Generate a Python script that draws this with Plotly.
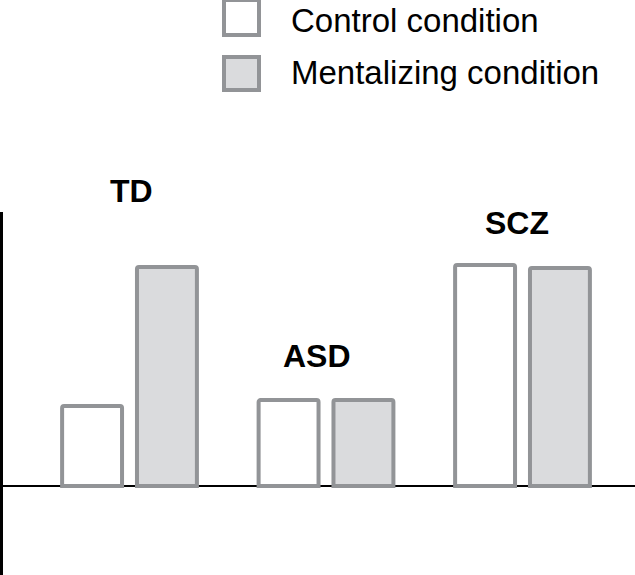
import plotly.graph_objects as go

# Data (arbitrary units, no y ticks shown in the original)
groups = ["TD", "ASD", "SCZ"]
control = [0.80, 0.86, 2.21]
mentalizing = [2.19, 0.86, 2.18]

W, H = 635, 575
BORDER = "#929497"
FILL = "#dadbdd"
FONT = "Liberation Sans, Arial, Helvetica, sans-serif"
ML = 3


def px_x(p):
    # pixel -> paper x
    return (p - ML) / (W - ML)


def px_y(p):
    # pixel -> paper y
    return 1 - p / H


fig = go.Figure()
fig.add_trace(go.Bar(
    x=groups, y=control, name="Control condition",
    width=0.305, offset=-0.343,
    marker=dict(color="white", line=dict(color=BORDER, width=4), cornerradius=2),
))
fig.add_trace(go.Bar(
    x=groups, y=mentalizing, name="Mentalizing condition",
    width=0.305, offset=0.038,
    marker=dict(color=FILL, line=dict(color=BORDER, width=4), cornerradius=2),
))

# group labels above the bars
label_shift = {"TD": (2, 56), "ASD": (-9, 24), "SCZ": (-6, 22)}
for g, c, m in zip(groups, control, mentalizing):
    dx, dy = label_shift[g]
    fig.add_annotation(
        x=g, y=max(c, m), xref="x", yref="y", text="<b>%s</b>" % g,
        showarrow=False, xanchor="center", yanchor="bottom",
        xshift=dx, yshift=dy, font=dict(family=FONT, size=32, color="black"),
    )

# hand-made legend
legend_items = [("Control condition", "white", -2, 37, 20),
                ("Mentalizing condition", FILL, 55, 92, 73)]
for text, fill, top, bottom, ymid in legend_items:
    fig.add_shape(
        type="rect", xref="paper", yref="paper",
        x0=px_x(224), x1=px_x(259), y0=px_y(bottom - 2), y1=px_y(top + 2),
        line=dict(color=BORDER, width=4), fillcolor=fill,
    )
    fig.add_annotation(
        x=px_x(289), y=px_y(ymid), xref="paper", yref="paper", text=text,
        showarrow=False, xanchor="left", yanchor="middle",
        font=dict(family=FONT, size=33, color="black"),
    )

fig.update_layout(
    width=W, height=H,
    margin=dict(l=ML, r=0, t=0, b=0),
    paper_bgcolor="white", plot_bgcolor="white",
    showlegend=False, barmode="overlay",
)
fig.update_xaxes(range=[-0.6438, 2.5725], showticklabels=False, showgrid=False,
                 zeroline=False, showline=False, ticks="")
fig.update_yaxes(domain=[0, 1 - 212 / H], range=[-0.89, 2.74], showticklabels=False,
                 showgrid=False, ticks="", zeroline=True, zerolinecolor="black",
                 zerolinewidth=2, showline=True, linecolor="black", linewidth=2.5)

fig.write_html("out.html", config={"displayModeBar": False},
               post_script="document.body.style.margin='0';document.body.style.overflow='hidden';")
